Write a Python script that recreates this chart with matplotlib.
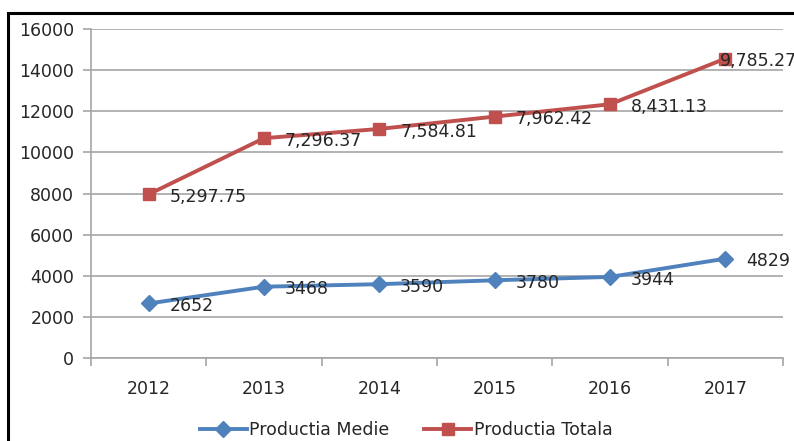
import matplotlib
matplotlib.use("Agg")
import matplotlib.pyplot as plt
from matplotlib.patches import Rectangle

years = ["2012", "2013", "2014", "2015", "2016", "2017"]
medie = [2652, 3468, 3590, 3780, 3944, 4829]
medie_labels = ["2652", "3468", "3590", "3780", "3944", "4829"]
totala = [7960, 10690, 11140, 11740, 12340, 14560]
totala_labels = ["5,297.75", "7,296.37", "7,584.81", "7,962.42", "8,431.13", "9,785.27"]
yticks = [0, 2000, 4000, 6000, 8000, 10000, 12000, 14000, 16000]

blue = "#4F81BD"
red = "#C0504D"
grid_c = "#a6a6a6"
txt_c = "#262626"
fs = 12.5

plt.rcParams['font.family'] = ['DejaVu Sans']

fig = plt.figure(figsize=(7.94, 4.41), dpi=100)
ax = fig.add_axes([91/794, 1-358/441, (783-91)/794, (358-29)/441])

x = list(range(len(years)))
l1, = ax.plot(x, medie, color=blue, lw=2.8, marker='D', ms=8, zorder=3, label="Productia Medie")
l2, = ax.plot(x, totala, color=red, lw=2.8, marker='s', ms=9, zorder=3, label="Productia Totala")

for xi, yi, s in zip(x, medie, medie_labels):
    ax.annotate(s, (xi, yi), xytext=(15, -2), textcoords='offset points',
                ha='left', va='center', fontsize=fs, color=txt_c, zorder=4,
                annotation_clip=False)
for i, (xi, yi, s) in enumerate(zip(x, totala, totala_labels)):
    off = (15, -2) if i < len(x) - 1 else (-4, -2)
    ax.annotate(s, (xi, yi), xytext=off, textcoords='offset points',
                ha='left', va='center', fontsize=fs, color=txt_c, zorder=4,
                annotation_clip=False)

ax.set_xlim(-0.5, len(years) - 0.5)
ax.set_ylim(0, 16000)
ax.set_yticks(yticks)
ax.set_yticklabels([str(v) for v in yticks], fontsize=fs, color=txt_c)
ax.set_xticks(x)
ax.set_xticklabels(years, fontsize=fs, color=txt_c)
ax.tick_params(axis='x', which='major', length=0, pad=16)
ax.set_xticks([i - 0.5 for i in range(len(years) + 1)], minor=True)
ax.tick_params(axis='x', which='minor', length=6, color=grid_c, width=1.2)
ax.tick_params(axis='y', length=6, color=grid_c, width=1.2, pad=6)
ax.yaxis.grid(True, color=grid_c, lw=1.2)
ax.set_axisbelow(True)
for sp in ['top', 'right']:
    ax.spines[sp].set_visible(False)
for sp in ['left', 'bottom']:
    ax.spines[sp].set_color(grid_c)
    ax.spines[sp].set_linewidth(1.2)

fig.legend(handles=[l1, l2], loc='center', bbox_to_anchor=(406/794, 1-430/441),
           ncol=2, frameon=False, fontsize=fs, handlelength=2.7,
           handletextpad=0.15, columnspacing=2.0, labelcolor=txt_c)

fig.patches.append(Rectangle((8/794, -0.05), 1.1, 1-13/441+0.05, transform=fig.transFigure,
                             fill=False, edgecolor='black', lw=2.2, zorder=10))

fig.savefig("out.png", dpi=100)
